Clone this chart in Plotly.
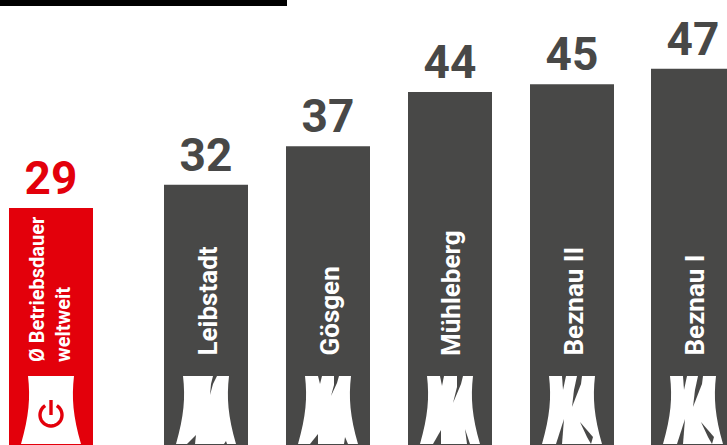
import numpy as np
import plotly.graph_objects as go

names = ["Ø Betriebsdauer<br>weltweit", "Leibstadt", "Gösgen", "Mühleberg", "Beznau II", "Beznau I"]
years = [29, 32, 37, 44, 45, 47]

RED = "#e3000b"
DARK = "#484847"
FONT = "Roboto"

# Horizontal layout in pixels of the 727 wide plot
centers = [51, 206, 328, 450, 572, 693]
BAR_WIDTH = 84
AXIS_FLOOR = -1.65
AXIS_CEIL = 55.9

# Tower silhouette, measured from the centre of the tower's top edge
TOP = 376
BOTTOM = 444


def tower(cx):
    return (
        f"M {cx-23},{TOP} L {cx+23},{TOP} "
        f"C {cx+20.5},398 {cx+22},416 {cx+30},{BOTTOM} "
        f"L {cx-30},{BOTTOM} C {cx-22},416 {cx-20.5},398 {cx-23},{TOP} Z"
    )


def polygon(cx, pts):
    head = " L ".join(f"{cx+dx},{TOP+dy}" for dx, dy in pts)
    return f"M {head} Z"


# Fissures of each tower, which grow with the age of the plant
cracks = {
    "Leibstadt": [
        [(7, 0), (11, 0), (7, 8), (4, 19), (5, 8)],
        [(-19, 68), (-10, 59), (-11, 68)],
        [(18, 68), (20, 65), (21, 68)],
    ],
    "Gösgen": [
        [(-10, 0), (-8, 8), (-6, 0)],
        [(6, 0), (11, 0), (9, 7), (3, 20), (6, 9)],
        [(-18, 68), (-10, 58), (-10, 68)],
        [(16, 68), (17, 61), (20, 68)],
    ],
    "Mühleberg": [
        [(-10, 0), (-8, 10), (-6, 0)],
        [(7, 0), (13, 0), (11, 8), (3, 27), (7, 11)],
        [(-17, 68), (-9, 54), (-9, 68)],
        [(15, 53), (20, 68), (17, 68)],
    ],
    "Beznau II": [
        [(-10, 0), (-9, 14), (-6, 0)],
        [(5, 0), (10, 0), (9, 8), (0, 31), (2, 14)],
        [(-16, 68), (-8, 43), (-10, 68)],
        [(8, 46), (21, 61), (19, 68), (15, 61)],
    ],
    "Beznau I": [
        [(-10, 0), (-9, 14), (-6, 0)],
        [(5, 0), (10, 0), (9, 8), (0, 31), (2, 14)],
        [(-16, 68), (-8, 43), (-10, 68)],
        [(8, 46), (21, 61), (19, 68), (15, 61)],
    ],
}

fig = go.Figure(
    go.Bar(
        x=centers,
        y=[v - AXIS_FLOOR for v in years],
        base=AXIS_FLOOR,
        width=BAR_WIDTH,
        marker=dict(color=[RED] + [DARK] * 5, line_width=0),
        text=years,
        textposition="outside",
        textangle=0,
        cliponaxis=False,
        textfont=dict(family=FONT, size=46, weight=700, color=[RED] + [DARK] * 5),
        hoverinfo="skip",
    )
)

shapes = [
    dict(type="rect", xref="x", yref="y2", x0=0, x1=287, y0=0, y1=6,
         fillcolor="#000000", line_width=0),
]

for name, cx in zip(names, centers):
    shapes.append(dict(type="path", xref="x", yref="y2", path=tower(cx),
                       fillcolor="#ffffff", line_width=0))
    for crack in cracks.get(name, []):
        shapes.append(dict(type="path", xref="x", yref="y2", path=polygon(cx, crack),
                           fillcolor=DARK, line_width=0))

# Power symbol on the red tower: an open ring with a stem through its gap
sweep = np.radians(np.linspace(32, 328, 40))
ring = " L ".join(f"{51 + 11*np.sin(a):.2f},{415 - 11*np.cos(a):.2f}" for a in sweep)
shapes.append(dict(type="path", xref="x", yref="y2", path=f"M {ring}",
                   line=dict(color=RED, width=3.4)))
shapes.append(dict(type="line", xref="x", yref="y2", x0=51, x1=51, y0=400, y1=415,
                   line=dict(color=RED, width=3.4)))

annotations = [
    dict(x=cx + 1, y=358, xref="x", yref="y2", text=f"<b>{name}</b>", showarrow=False,
         textangle=-90, xanchor="center", yanchor="bottom",
         font=dict(family=FONT, size=26, color="#ffffff"))
    for name, cx in zip(names[1:], centers[1:])
]
annotations.append(
    dict(x=50, y=364, xref="x", yref="y2", text=f"<b>{names[0]}</b>", showarrow=False,
         textangle=-90, xanchor="center", yanchor="bottom", align="left",
         font=dict(family=FONT, size=20, color="#ffffff"))
)

fig.update_layout(
    width=727,
    height=445,
    margin=dict(l=0, r=0, t=0, b=0),
    paper_bgcolor="#ffffff",
    plot_bgcolor="#ffffff",
    showlegend=False,
    xaxis=dict(range=[0, 727], visible=False, fixedrange=True),
    yaxis=dict(range=[AXIS_FLOOR, AXIS_CEIL], visible=False, fixedrange=True),
    yaxis2=dict(range=[445, 0], visible=False, overlaying="y", fixedrange=True),
    shapes=shapes,
    annotations=annotations,
)

fig.write_html("out.html", config=dict(displayModeBar=False))
